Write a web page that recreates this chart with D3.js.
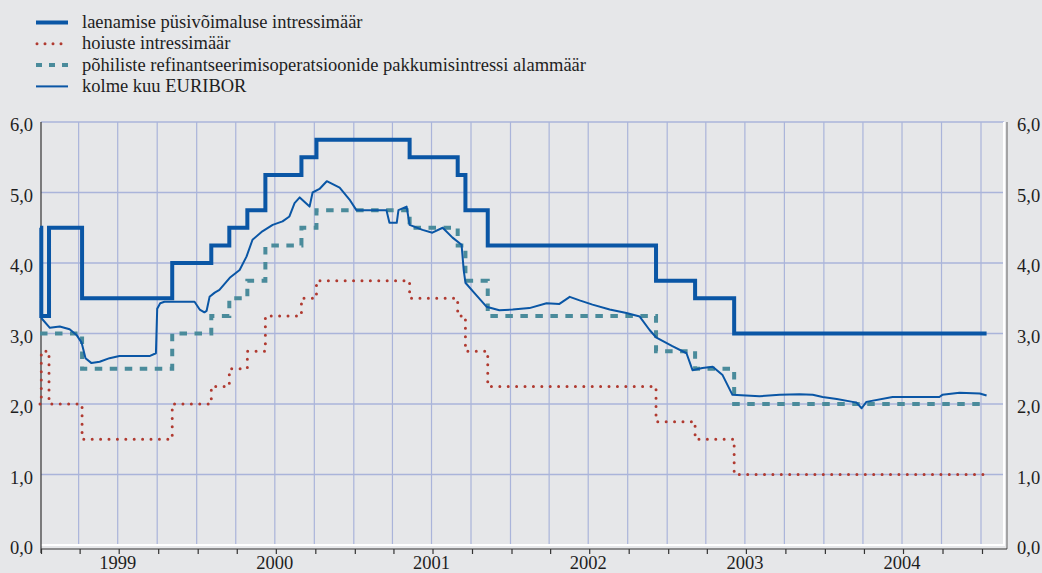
<!DOCTYPE html>
<html>
<head>
<meta charset="utf-8">
<script src="https://cdn.jsdelivr.net/npm/d3@7"></script>
<style>
  body { margin: 0; background: #e6e7e9; }
  svg { display: block; font-family: "Liberation Serif", "Times New Roman", serif; }
</style>
</head>
<body>
<svg id="chart" width="1042" height="573"></svg>
<script>
// ECB rates and 3M Euribor, %
const endDate = "2005-01-14";

const lending = [
  ["1999-01-01", 4.5], ["1999-01-04", 3.25], ["1999-01-22", 4.5], ["1999-04-09", 3.5],
  ["1999-11-05", 4.0], ["2000-02-04", 4.25], ["2000-03-17", 4.5], ["2000-04-28", 4.75],
  ["2000-06-09", 5.25], ["2000-09-01", 5.5], ["2000-10-06", 5.75], ["2001-05-11", 5.5],
  ["2001-08-31", 5.25], ["2001-09-18", 4.75], ["2001-11-09", 4.25], ["2002-12-06", 3.75],
  ["2003-03-07", 3.5], ["2003-06-06", 3.0], [endDate, 3.0]
];

const deposit = [
  ["1999-01-01", 2.0], ["1999-01-04", 2.75], ["1999-01-22", 2.0], ["1999-04-09", 1.5],
  ["1999-11-05", 2.0], ["2000-02-04", 2.25], ["2000-03-17", 2.5], ["2000-04-28", 2.75],
  ["2000-06-09", 3.25], ["2000-09-01", 3.5], ["2000-10-06", 3.75], ["2001-05-11", 3.5],
  ["2001-08-31", 3.25], ["2001-09-18", 2.75], ["2001-11-09", 2.25], ["2002-12-06", 1.75],
  ["2003-03-07", 1.5], ["2003-06-06", 1.0], [endDate, 1.0]
];

const refi = [
  ["1999-01-01", 3.0], ["1999-04-09", 2.5], ["1999-11-05", 3.0], ["2000-02-04", 3.25],
  ["2000-03-17", 3.5], ["2000-04-28", 3.75], ["2000-06-09", 4.25], ["2000-09-01", 4.5],
  ["2000-10-06", 4.75], ["2001-05-11", 4.5], ["2001-08-31", 4.25], ["2001-09-18", 3.75],
  ["2001-11-09", 3.25], ["2002-12-06", 2.75], ["2003-03-07", 2.5], ["2003-06-06", 2.0],
  [endDate, 2.0]
];

const euribor = [
  ["1999-01-04", 3.22], ["1999-01-24", 3.08], ["1999-02-16", 3.10], ["1999-03-11", 3.06],
  ["1999-03-27", 2.98], ["1999-04-08", 2.87], ["1999-04-17", 2.65], ["1999-05-01", 2.58],
  ["1999-05-20", 2.60], ["1999-06-12", 2.65], ["1999-07-05", 2.68], ["1999-08-05", 2.68],
  ["1999-09-13", 2.68], ["1999-09-28", 2.72], ["1999-10-01", 3.35], ["1999-10-08", 3.43],
  ["1999-10-18", 3.45], ["1999-11-22", 3.45], ["1999-12-27", 3.45], ["2000-01-08", 3.34],
  ["2000-01-19", 3.30], ["2000-01-24", 3.32], ["2000-01-31", 3.52], ["2000-02-12", 3.58],
  ["2000-02-23", 3.62], ["2000-03-18", 3.79], ["2000-04-10", 3.90], ["2000-04-26", 4.09],
  ["2000-05-10", 4.33], ["2000-06-02", 4.45], ["2000-06-26", 4.54], ["2000-07-19", 4.59],
  ["2000-08-04", 4.66], ["2000-08-16", 4.85], ["2000-08-28", 4.93], ["2000-09-20", 4.80],
  ["2000-09-27", 5.00], ["2000-10-13", 5.05], ["2000-10-30", 5.16], ["2000-11-29", 5.07],
  ["2000-12-22", 4.90], ["2001-01-07", 4.75], ["2001-02-07", 4.75], ["2001-03-18", 4.75],
  ["2001-03-25", 4.57], ["2001-04-11", 4.57], ["2001-04-15", 4.75], ["2001-05-04", 4.80],
  ["2001-05-11", 4.54], ["2001-06-10", 4.47], ["2001-07-03", 4.43], ["2001-07-27", 4.50],
  ["2001-08-19", 4.36], ["2001-09-09", 4.26], ["2001-09-14", 3.90], ["2001-09-18", 3.72],
  ["2001-10-05", 3.60], ["2001-11-06", 3.38], ["2001-12-06", 3.33], ["2002-01-06", 3.34],
  ["2002-02-14", 3.36], ["2002-03-26", 3.43], ["2002-04-25", 3.42], ["2002-05-19", 3.52],
  ["2002-06-11", 3.47], ["2002-07-11", 3.41], ["2002-08-20", 3.34], ["2002-09-28", 3.29],
  ["2002-10-29", 3.24], ["2002-11-21", 3.05], ["2002-12-07", 2.94], ["2003-01-13", 2.82],
  ["2003-02-15", 2.72], ["2003-03-01", 2.48], ["2003-03-24", 2.51], ["2003-04-17", 2.53],
  ["2003-05-10", 2.41], ["2003-06-02", 2.13], ["2003-08-04", 2.11], ["2003-09-20", 2.13],
  ["2003-11-05", 2.14], ["2003-12-06", 2.13], ["2003-12-29", 2.10], ["2004-01-31", 2.07],
  ["2004-03-08", 2.03], ["2004-03-17", 2.02], ["2004-03-29", 1.94], ["2004-04-09", 2.03],
  ["2004-06-09", 2.10], ["2004-09-26", 2.10], ["2004-10-03", 2.13], ["2004-11-12", 2.16],
  ["2004-12-29", 2.15], ["2005-01-14", 2.12]
];

const years = [1999, 2000, 2001, 2002, 2003, 2004];
const yTicks = [0, 1, 2, 3, 4, 5, 6];

const legendLabels = [
  "laenamise püsivõimaluse intressimäär",
  "hoiuste intressimäär",
  "põhiliste refinantseerimisoperatsioonide pakkumisintressi alammäär",
  "kolme kuu EURIBOR"
];

const parse = d3.timeParse("%Y-%m-%d");
const plot = {left: 41, right: 1004, top: 122, bottom: 545};
const fontSize = 18.5;
const textColor = "#1e1e1e";

const svg = d3.select("#chart");

const x = d3.scaleTime()
  .domain([new Date(1999, 0, 1), new Date(2005, 0, 1)])
  .range([40, 981]);
const y = d3.scaleLinear().domain([0, 6]).range([plot.bottom, plot.top]);

const gridColor = "#aab4da";
const quarters = d3.timeMonth.every(3).range(new Date(1999, 3, 1), new Date(2005, 0, 2));

// grid
svg.append("g").selectAll("line").data(quarters).join("line")
  .attr("x1", d => x(d)).attr("x2", d => x(d))
  .attr("y1", plot.top).attr("y2", plot.bottom)
  .attr("stroke", gridColor).attr("stroke-width", 1.2);

svg.append("g").selectAll("line").data(yTicks.filter(d => d > 0)).join("line")
  .attr("x1", plot.left).attr("x2", plot.right)
  .attr("y1", d => y(d)).attr("y2", d => y(d))
  .attr("stroke", gridColor).attr("stroke-width", 1.5);

// white frame bottom/right
svg.append("line").attr("x1", plot.left).attr("x2", plot.right + 1)
  .attr("y1", plot.bottom).attr("y2", plot.bottom)
  .attr("stroke", "#fff").attr("stroke-width", 2);
svg.append("line").attr("x1", plot.right).attr("x2", plot.right)
  .attr("y1", plot.top).attr("y2", plot.bottom)
  .attr("stroke", "#fff").attr("stroke-width", 2);

// axis lines
svg.append("line").attr("x1", plot.left).attr("x2", plot.left).attr("y1", plot.top).attr("y2", 553)
  .attr("stroke", "#333").attr("stroke-width", 1.2);
svg.append("line").attr("x1", 1007).attr("x2", 1007).attr("y1", plot.top).attr("y2", 549)
  .attr("stroke", "#777").attr("stroke-width", 1.2);
svg.append("line").attr("x1", plot.left).attr("x2", 1007).attr("y1", 549).attr("y2", 549)
  .attr("stroke", "#333").attr("stroke-width", 1.2);

// quarter ticks below
const xAxis = d3.axisBottom(x)
  .tickValues(d3.timeMonth.every(3).range(new Date(1999, 0, 1), new Date(2005, 0, 2)))
  .tickSize(5).tickFormat("");
const gx = svg.append("g").attr("transform", "translate(1,549)").call(xAxis);
gx.select(".domain").remove();
gx.selectAll(".tick line").attr("stroke", "#333").attr("stroke-width", 1.2);

// year labels
svg.append("g").selectAll("text").data(years).join("text")
  .attr("x", d => x(new Date(d, 6, 1)))
  .attr("y", 569)
  .attr("text-anchor", "middle")
  .attr("font-size", fontSize)
  .attr("fill", textColor)
  .text(d => d);

// y labels
const fmt = d => d.toFixed(1).replace(".", ",");
const yl = d3.axisLeft(y).tickValues(yTicks).tickSize(0).tickPadding(8).tickFormat(fmt);
const yr = d3.axisRight(y).tickValues(yTicks).tickSize(0).tickPadding(10).tickFormat(fmt);
[svg.append("g").attr("transform", `translate(${plot.left},3)`).call(yl),
 svg.append("g").attr("transform", "translate(1007,3)").call(yr)].forEach(g => {
  g.select(".domain").remove();
  g.selectAll("text").attr("font-size", fontSize).attr("fill", textColor)
    .attr("font-family", "Liberation Serif, serif");
});

// series
const step = d3.line().curve(d3.curveStepAfter)
  .x(d => x(parse(d[0]))).y(d => y(d[1]));
const plain = d3.line().x(d => x(parse(d[0]))).y(d => y(d[1]));

svg.append("path").datum(refi).attr("d", step)
  .attr("fill", "none").attr("stroke", "#4a8b9b").attr("stroke-width", 4)
  .attr("stroke-dasharray", "7.5 7.5");

svg.append("path").datum(deposit).attr("d", step)
  .attr("fill", "none").attr("stroke", "#b03a30").attr("stroke-width", 3)
  .attr("stroke-linecap", "round").attr("stroke-dasharray", "0 8.4");

svg.append("path").datum(euribor).attr("d", plain)
  .attr("fill", "none").attr("stroke", "#0a56a5").attr("stroke-width", 2)
  .attr("stroke-linejoin", "round");

svg.append("path").datum(lending).attr("d", step)
  .attr("fill", "none").attr("stroke", "#0a56a5").attr("stroke-width", 4);

// legend
const legendStyles = [
  {color: "#0a56a5", width: 4, dash: null, cap: "butt"},
  {color: "#b03a30", width: 3, dash: "0 8", cap: "round"},
  {color: "#4a8b9b", width: 4, dash: "6 7", cap: "butt"},
  {color: "#0a56a5", width: 2, dash: null, cap: "butt"}
];
const lg = svg.append("g").selectAll("g").data(legendLabels).join("g")
  .attr("transform", (d, i) => `translate(0,${22.5 + i * 21.3})`);
lg.append("line")
  .attr("x1", (d, i) => i === 1 ? 37 : 36).attr("x2", 68)
  .attr("stroke", (d, i) => legendStyles[i].color)
  .attr("stroke-width", (d, i) => legendStyles[i].width)
  .attr("stroke-dasharray", (d, i) => legendStyles[i].dash)
  .attr("stroke-linecap", (d, i) => legendStyles[i].cap);
lg.append("text")
  .attr("x", 82).attr("y", 5.5)
  .attr("font-size", fontSize).attr("fill", textColor)
  .text(d => d);
</script>
</body>
</html>
